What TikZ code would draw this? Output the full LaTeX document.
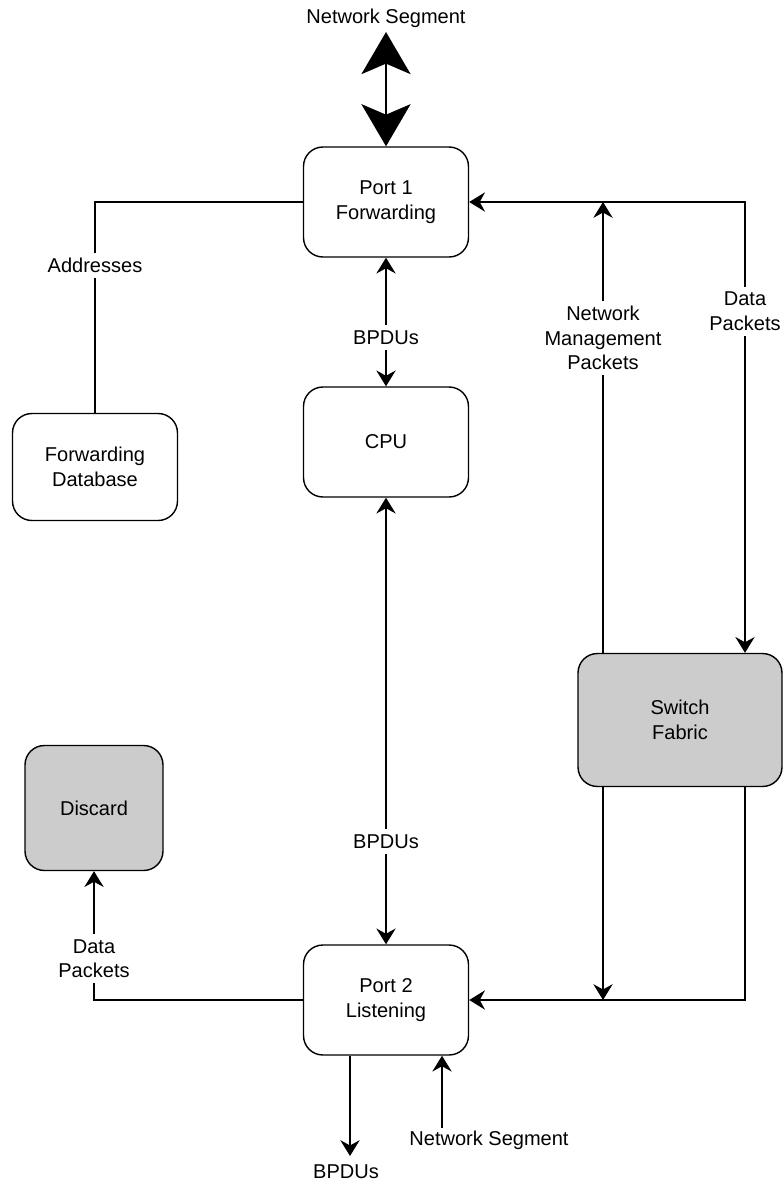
\documentclass[tikz,border=0pt]{standalone}
\usepackage{fontspec}
\setmainfont{Liberation Sans}
\usepackage{tikz}
\usetikzlibrary{positioning,arrows.meta}
\definecolor{fabricgray}{RGB}{204,204,204}

\begin{document}
\begin{tikzpicture}[x=0.02cm, y=-0.02cm,
  every node/.style = {font=\fontsize{11.4}{14}\selectfont, align=center},
  box/.style = {shape=rectangle, rounded corners=11pt, draw, line width=0.8pt,
    fill=white, minimum width=3.3cm, minimum height=2.2cm},
  graybox/.style = {box, fill=fabricgray},
  lbl/.style = {fill=white, inner sep=3pt},
  every path/.style = {line width=0.8pt},
  >={Stealth[length=9pt, width=11pt, inset=3pt]}
  ]
  \useasboundingbox (0,0) rectangle (784,1183);
  % boxes
  \node[box] (port1) at (386,202) {Port 1\\Forwarding};
  \node[box] (cpu) at (386,442) {CPU};
  \node[box, minimum height=2.14cm] (fdb) at (95,467) {Forwarding\\Database};
  \node[graybox, minimum width=2.76cm, minimum height=2.5cm] (discard) at (94,808) {Discard};
  \node[graybox, minimum width=4.08cm, minimum height=2.66cm] (fabric) at (680,720) {Switch\\Fabric};
  \node[box] (port2) at (386,1000) {Port 2\\Listening};
  % free labels and line ends
  \node (segtop) at (386,18) {Network Segment};
  \node (segbot) at (489,1140) {Network Segment};
  \node (bpdubot) at (346,1172) {BPDUs};
  \coordinate (segtip) at (386,32);
  \coordinate (mgmt) at (603,0);
  \coordinate (data) at (745,0);
  \coordinate (bpdutip) at (350,1156);
  \coordinate (segfoot) at (442,1128);
  % connectors
  \draw[{Stealth[length=24pt, width=28pt, inset=6pt]}-{Stealth[length=24pt, width=28pt, inset=6pt]}]
    (segtip) -- (port1.north);
  \draw (port1.west) -| node[lbl, pos=0.65] {Addresses} (fdb.north);
  \draw[<->] (port1) -- node[lbl, pos=0.62] {BPDUs} (cpu);
  \draw[<->] (cpu) -- node[lbl, pos=0.77] {BPDUs} (port2);
  \draw[<->] (port1.east) -| node[lbl, pos=0.621] {Data\\Packets} (fabric.north -| data);
  \draw[->] (fabric.north -| mgmt) -- node[lbl, pos=0.698] {Network\\Management\\Packets} (port1.east -| mgmt);
  \draw[->] (fabric.south -| mgmt) -- (port2.east -| mgmt);
  \draw[->] (fabric.south -| data) |- (port2.east);
  \draw[->] (port2.west) -| node[lbl, pos=0.66] {Data\\Packets} (discard.south);
  \draw[->] (port2.south -| bpdutip) -- (bpdutip);
  \draw[->] (segfoot) -- (port2.south -| segfoot);
\end{tikzpicture}
\end{document}
